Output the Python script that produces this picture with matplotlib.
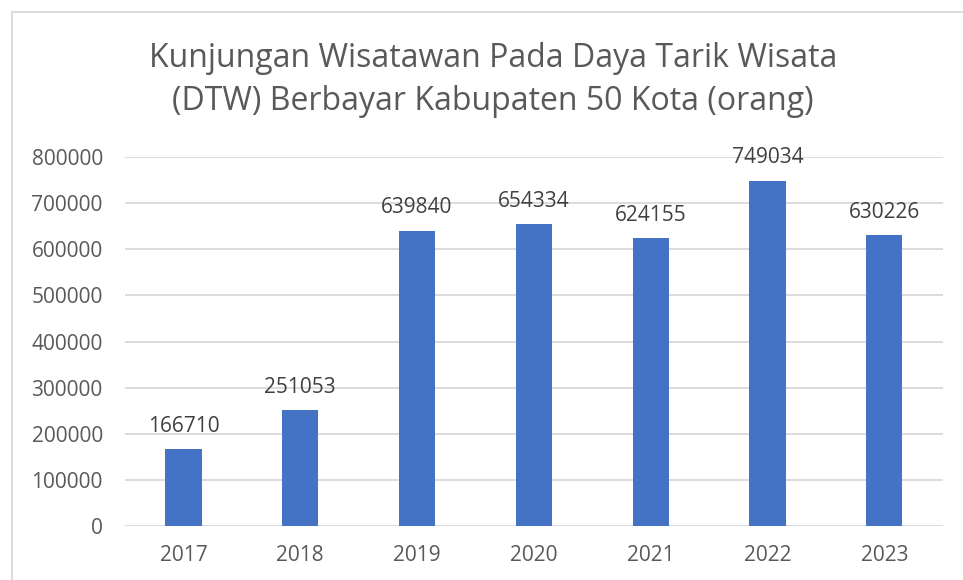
import numpy as np
import matplotlib.pyplot as plt
from matplotlib.patches import Rectangle

# --- DATA ---
years = ['2017', '2018', '2019', '2020', '2021', '2022', '2023']
visitors = [166710, 251053, 639840, 654334, 624155, 749034, 630226]
y_ticks = [0, 100000, 200000, 300000, 400000, 500000, 600000, 700000, 800000]

title = 'Kunjungan Wisatawan Pada Daya Tarik Wisata\n(DTW) Berbayar Kabupaten 50 Kota (orang)'

BAR_COLOR = '#4472C4'
TEXT_COLOR = '#595959'
LABEL_COLOR = '#404040'
GRID_COLOR = '#D9D9D9'

plt.rcParams['font.family'] = ['Open Sans', 'DejaVu Sans']

fig = plt.figure(figsize=(9.63, 5.80), dpi=100)
ax = fig.add_axes([0.1298, 0.0931, 0.8492, 0.6362])

x = np.arange(len(years))
ax.bar(x, visitors, width=0.31, color=BAR_COLOR, zorder=3)

# data labels above each bar
for xi, v in zip(x, visitors):
    ax.annotate(str(v), (xi, v), xytext=(0, 9), textcoords='offset points',
                ha='center', va='bottom', fontsize=15, color=LABEL_COLOR, zorder=4)

ax.set_xlim(-0.5, len(years) - 0.5)
ax.set_ylim(0, 800000)
ax.set_xticks(x)
ax.set_xticklabels(years)
ax.set_yticks(y_ticks)
ax.set_yticklabels([str(t) for t in y_ticks])
ax.tick_params(axis='both', length=0, labelsize=15, labelcolor=TEXT_COLOR)
ax.tick_params(axis='x', pad=14)
ax.tick_params(axis='y', pad=16)
ax.grid(axis='y', color=GRID_COLOR, linewidth=1.3, zorder=0)
for s in ax.spines.values():
    s.set_visible(False)

fig.text(0.512, 0.862, title, ha='center', va='center', fontsize=23,
         color=TEXT_COLOR, linespacing=1.4)

# chart area border
fig.patches.append(Rectangle((12 / 963, -0.1), 1.2, 1 - 12 / 580 + 0.1,
                             transform=fig.transFigure, fill=False,
                             edgecolor=GRID_COLOR, linewidth=1.3))

fig.savefig('out.png', dpi=100)
